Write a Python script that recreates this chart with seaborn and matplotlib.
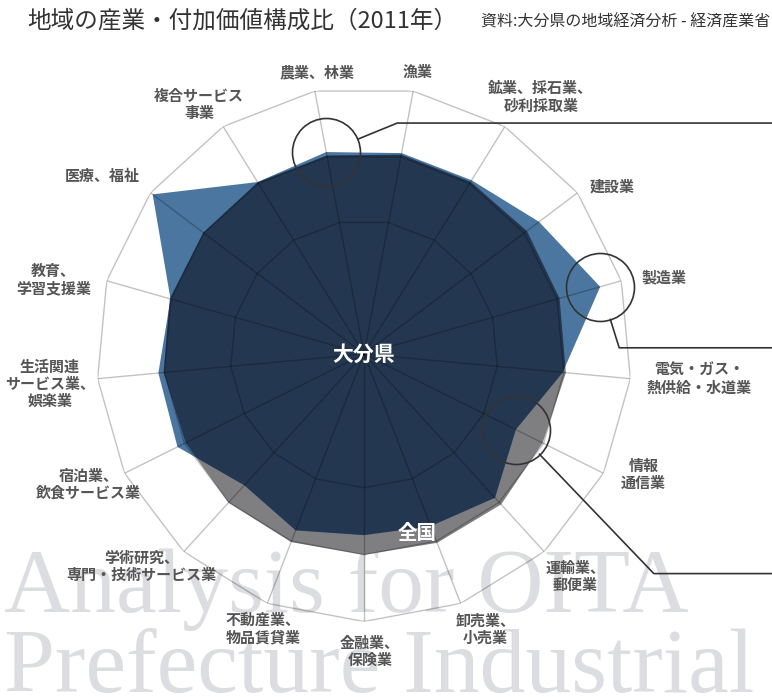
import numpy as np
import matplotlib
matplotlib.use("Agg")
import matplotlib.pyplot as plt
import seaborn as sns
from matplotlib.lines import Line2D

sns.set_theme(style="white")
plt.rcParams['font.family'] = ['Noto Sans CJK JP', 'DejaVu Sans']

# industries, clockwise from the top
categories = [
    "農業、林業", "漁業", "鉱業、採石業、\n砂利採取業", "建設業", "製造業",
    "電気・ガス・\n熱供給・水道業", "情報\n通信業", "運輸業、\n郵便業",
    "卸売業、\n小売業", "金融業、\n保険業", "不動産業、\n物品賃貸業",
    "学術研究、\n専門・技術サービス業", "宿泊業、\n飲食サービス業",
    "生活関連\nサービス業、\n娯楽業", "教育、\n学習支援業", "医療、福祉",
    "複合サービス\n事業",
]
oita = [76.8, 76.4, 76.4, 82.0, 91.8, 74.6, 63.4, 72.7, 69.0,
        67.7, 70.7, 66.4, 77.9, 77.2, 75.2, 99.0, 75.6]
japan = [75.5, 75.8, 75.7, 76.3, 76.0, 75.8, 74.6, 76.1, 75.7,
         75.1, 75.4, 75.2, 74.5, 75.2, 75.5, 75.3, 75.5]
rings = [50, 75, 100]
highlight = [0, 4, 6]   # 農業、林業 / 製造業 / 情報通信業

# label offsets from the outer vertex (pixels, x right / y down)
label_offsets = [(2, -19), (4, -19), (36, -30), (35, -6), (43, -3), (69, 0),
                 (40, 1), (31, 25), (25, 26), (6, 30), (-4, 25), (-42, 15),
                 (-36, 11), (-48, 5), (-53, -1), (-48, -17), (-24, -22)]
# elbow of each leader line relative to the circled point (pixels, y up)
leader_elbows = [(71, 29), (19, -61), (138, -144)]

BLUE = "#4a76a0"
GRAY = "#7f7f81"
NAVY = "#243750"

n = len(categories)
theta = -np.pi / n + np.arange(n) * 2 * np.pi / n
th_c = np.append(theta, theta[0])
oita_c = np.append(oita, oita[0])
japan_c = np.append(japan, japan[0])

W, H = 772, 697
fig = plt.figure(figsize=(W / 100, H / 100), dpi=100)

# watermark behind everything
wm = dict(family="Liberation Serif", fontsize=66, color="#dcdde0",
          ha="left", va="baseline", zorder=-1)
fig.text(4 / W, (H - 612) / H, "Analysis for OITA", **wm)
fig.text(4 / W, (H - 692) / H, "Prefecture Industrial", **wm)

ax = fig.add_axes([(364 - 267.5) / W, (H - 354 - 267.5) / H, 535 / W, 535 / H],
                  projection="polar")
ax.set_theta_zero_location("N")
ax.set_theta_direction(-1)
ax.set_ylim(0, 100)
ax.set_axis_off()

jp = ax.fill(th_c, japan_c, color=GRAY, lw=0, zorder=1)[0]
oi = ax.fill(th_c, oita_c, color=BLUE, lw=0, zorder=2)[0]
both = ax.fill(th_c, japan_c, color=NAVY, lw=0, zorder=3)[0]
both.set_clip_path(oi)

# polygon grid drawn on top, darkening whatever lies below
for r in rings:
    ax.plot(th_c, [r] * (n + 1), color="black", alpha=0.24, lw=1.0, zorder=5)
for t in theta:
    ax.plot([t, t], [0, 100], color="black", alpha=0.24, lw=1.0, zorder=5)

for i, lab in enumerate(categories):
    dx, dy = label_offsets[i]
    ax.annotate(lab, xy=(theta[i], 100), xytext=(dx, -dy),
                textcoords="offset pixels", ha="center", va="center",
                fontsize=10.8, fontweight="bold", color="#555555",
                linespacing=1.1, annotation_clip=False)

ax.text(0, 0, "大分県", ha="center", va="center", fontsize=15,
        fontweight="bold", color="white", zorder=7)
ax.text(np.radians(163.6), 70, "全国", ha="center", va="center", fontsize=14,
        fontweight="bold", color="white", zorder=7)

# circled points with leader lines out to the right edge
rc = 34
for k, i in enumerate(highlight):
    ax.plot(theta[i], oita[i], marker="o", ms=rc * 2 * 0.72, mfc="none",
            mec="#333333", mew=1.2, zorder=8, clip_on=False)
    px, py = ax.transData.transform((theta[i], oita[i]))
    ex, ey = px + leader_elbows[k][0], py + leader_elbows[k][1]
    d = np.hypot(ex - px, ey - py)
    sx, sy = px + rc * (ex - px) / d, py + rc * (ey - py) / d
    fig.add_artist(Line2D([sx / W, ex / W, 1.0], [sy / H, ey / H, ey / H],
                          transform=fig.transFigure, color="#333333",
                          lw=1.2, zorder=8))

fig.text(27 / W, 1 - 21 / H, "地域の産業・付加価値構成比（2011年）",
         ha="left", va="center", fontsize=17, color="#333333")
fig.text(770 / W, 1 - 22 / H, "資料:大分県の地域経済分析 - 経済産業省",
         ha="right", va="center", fontsize=11.5, color="#333333")

fig.savefig("out.png", dpi=100)
